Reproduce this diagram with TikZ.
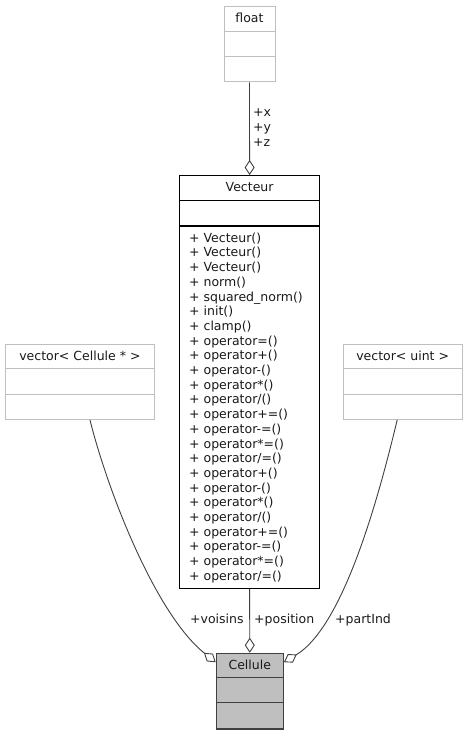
\documentclass[tikz,border=0pt]{standalone}
\usepackage{fontspec}
\setmainfont{DejaVu Sans}
\usetikzlibrary{arrows.meta}
\definecolor{boxgray}{HTML}{BFBFBF}
\definecolor{cellfill}{HTML}{BFBFBF}
\definecolor{edgegray}{HTML}{404040}
\definecolor{txt}{HTML}{1A1A1A}
\begin{document}
\begin{tikzpicture}[x=1pt,y=-1pt,
  every node/.style={font=\fontsize{12.5}{15}\selectfont, inner sep=0pt, text=txt},
  gbox/.style={draw=boxgray, line width=0.9pt, fill=white, anchor=north west},
  kbox/.style={draw=black, line width=1.2pt, fill=white, anchor=north west},
  cbox/.style={draw=edgegray, line width=1.2pt, fill=cellfill, anchor=north west},
  gsep/.style={draw=boxgray, line width=0.9pt},
  ksep/.style={draw=black, line width=1.2pt},
  csep/.style={draw=edgegray, line width=1.2pt},
  edge/.style={draw=edgegray, line width=0.9pt, -{Diamond[length=15pt,width=10pt,fill=white,line width=0.9pt]}},
  lbl/.style={anchor=base west}]
\useasboundingbox (0,0) rectangle (467,735);
% float
\node[gbox, minimum width=51pt, minimum height=75.5pt] (flt) at (223.5,6) {};
\draw[gsep] ([yshift=-25.3pt]flt.north west) -- ([yshift=-25.3pt]flt.north east);
\draw[gsep] ([yshift=-50.5pt]flt.north west) -- ([yshift=-50.5pt]flt.north east);
\node[anchor=base] (fltt) at ([yshift=-16.7pt]flt.north) {float};
% Vecteur
\node[kbox, minimum width=140pt, minimum height=413pt] (vec) at (179,175) {};
\draw[ksep] ([yshift=-25.5pt]vec.north west) -- ([yshift=-25.5pt]vec.north east);
\draw[ksep] ([yshift=-51pt]vec.north west) -- ([yshift=-51pt]vec.north east);
\node[anchor=base] (vect) at ([yshift=-16.7pt]vec.north) {Vecteur};
\foreach \t [count=\i] in {Vecteur(),Vecteur(),Vecteur(),norm(),squared\_norm(),init(),clamp(),
  operator=(),operator+(),operator-(),operator*(),operator/(),operator+=(),operator-=(),
  operator*=(),operator/=(),operator+(),operator-(),operator*(),operator/(),operator+=(),
  operator-=(),operator*=(),operator/=()}
  {\node[anchor=base west] (m\i) at (189,{242.2+14.7*(\i-1)}) {+ \t};}
% vector< Cellule * >
\node[gbox, minimum width=149pt, minimum height=75.5pt] (vc) at (5,343.5) {};
\draw[gsep] ([yshift=-25.3pt]vc.north west) -- ([yshift=-25.3pt]vc.north east);
\draw[gsep] ([yshift=-50.5pt]vc.north west) -- ([yshift=-50.5pt]vc.north east);
\node[anchor=base] (vct) at ([yshift=-16.7pt]vc.north) {vector< Cellule * >};
% vector< uint >
\node[gbox, minimum width=118.5pt, minimum height=75.5pt] (vu) at (343,343.5) {};
\draw[gsep] ([yshift=-25.3pt]vu.north west) -- ([yshift=-25.3pt]vu.north east);
\draw[gsep] ([yshift=-50.5pt]vu.north west) -- ([yshift=-50.5pt]vu.north east);
\node[anchor=base] (vut) at ([yshift=-16.7pt]vu.north) {vector< uint >};
% Cellule
\node[cbox, minimum width=67pt, minimum height=75.6pt] (cel) at (215.7,652.7) {};
\draw[csep] ([yshift=-25pt]cel.north west) -- ([yshift=-25pt]cel.north east);
\draw[csep] ([yshift=-50pt]cel.north west) -- ([yshift=-50pt]cel.north east);
\node[anchor=base] (celt) at ([yshift=-16.7pt]cel.north) {Cellule};
% connectors
\draw[edge] (flt.south) -- (vec.north);
\draw[edge] (vec.south) -- (cel.north);
\draw[edge] ([xshift=10pt]vc.south) .. controls +(18,72) and +(-60,-48) .. ([yshift=-9.5pt]cel.north west);
\draw[edge] ([xshift=-5.5pt]vu.south) .. controls +(-18,75) and +(60,-36) .. ([yshift=-9.5pt]cel.north east);
% labels
\node[lbl] (lx) at (253,117) {+x};
\node[lbl] (ly) at (253,132) {+y};
\node[lbl] (lz) at (253,147) {+z};
\node[lbl] (lvois) at (190,623) {+voisins};
\node[lbl] (lpos) at (254,623) {+position};
\node[lbl] (lpart) at (335,623) {+partInd};
\end{tikzpicture}
\end{document}
